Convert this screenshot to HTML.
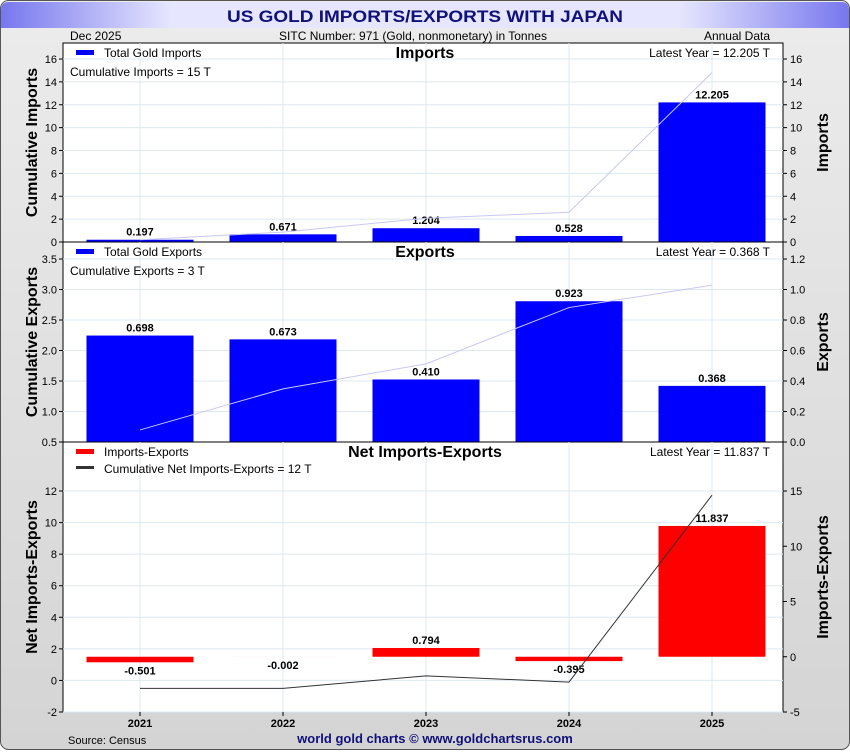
<!DOCTYPE html>
<html><head><meta charset="utf-8"><style>
body{margin:0;width:850px;height:750px;overflow:hidden;font-family:"Liberation Sans",sans-serif;}
</style></head><body>
<svg id="c" width="850" height="750" xmlns="http://www.w3.org/2000/svg" font-family="Liberation Sans, sans-serif">
<defs>
<linearGradient id="bg" x1="0" y1="0" x2="0" y2="1"><stop offset="0" stop-color="#ececec"/><stop offset="1" stop-color="#d4d4d4"/></linearGradient>
<linearGradient id="tb" x1="0" y1="0" x2="1" y2="0"><stop offset="0" stop-color="#7777ee"/><stop offset="0.2" stop-color="#e6e6ff"/><stop offset="0.8" stop-color="#e6e6ff"/><stop offset="1" stop-color="#7777ee"/></linearGradient>
</defs>
<rect x="0.5" y="0.5" width="849" height="749" rx="8" fill="url(#bg)" stroke="#555"/>
<path d="M1 28 V10 Q1 2 9 2 H841 Q849 2 849 10 V28 Z" fill="url(#tb)"/>
<text x="425" y="22" text-anchor="middle" font-size="17" font-weight="bold" fill="#10107a" textLength="396" lengthAdjust="spacingAndGlyphs">US GOLD IMPORTS/EXPORTS WITH JAPAN</text>
<text x="70" y="40" font-size="12">Dec  2025</text>
<text x="413" y="40" text-anchor="middle" font-size="12">SITC Number: 971 (Gold, nonmonetary) in Tonnes</text>
<text x="770" y="40" text-anchor="end" font-size="12">Annual Data</text>
<rect x="63" y="43" width="720" height="669" fill="#fff" stroke="#000"/>
<g id="g"></g>
<text x="68" y="744" font-size="11">Source: Census</text>
<text x="435" y="743" text-anchor="middle" font-size="13" font-weight="bold" fill="#10107a">world gold charts © www.goldchartsrus.com</text>
</svg>
<script>
const years=["2021","2022","2023","2024","2025"];
const imports=[0.197,0.671,1.204,0.528,12.205];
const importsCum=[0.197,0.868,2.072,2.600,14.805];
const exports=[0.698,0.673,0.410,0.923,0.368];
const exportsCum=[0.698,1.371,1.781,2.704,3.072];
const net=[-0.501,-0.002,0.794,-0.395,11.837];
const netCum=[-0.501,-0.503,0.291,-0.104,11.733];
const impTicks=[0,2,4,6,8,10,12,14,16];
const expLTicks=[0.5,1.0,1.5,2.0,2.5,3.0,3.5];
const expRTicks=[0.0,0.2,0.4,0.6,0.8,1.0,1.2];
const netLTicks=[-2,0,2,4,6,8,10,12];
const netRTicks=[-5,0,5,10,15];
const NS="http://www.w3.org/2000/svg";
const g=document.getElementById('g');
function mk(t,a,txt){const e=document.createElementNS(NS,t);for(const k in a)e.setAttribute(k,a[k]);if(txt!==undefined)e.textContent=txt;g.appendChild(e);return e;}
const X0=63,X1=783;
function x(i){return 140+i*143;}
function sc(d0,d1,p0,p1){return v=>p0+(v-d0)/(d1-d0)*(p1-p0);}
function panel(o){
  const yl=sc(o.lMin,o.lMax,o.bot,o.topPx), yr=sc(o.rMin,o.rMax,o.bot,o.topPx);
  years.forEach((yy,i)=>{const e=mk('line',{x1:x(i),x2:x(i),y1:o.top,y2:o.bot,stroke:'#dde8f0'});
    });
  o.lt.forEach(v=>{const e=mk('line',{x1:X0,x2:X1,y1:yl(v),y2:yl(v),stroke:'#dde8f0'});
    
    const t=mk('text',{x:X0-6,y:yl(v)+4,'text-anchor':'end','font-size':11},o.lf(v));
    
    mk('line',{x1:X0-4,x2:X0,y1:yl(v),y2:yl(v),stroke:'#000'});});
  o.rt.forEach(v=>{const t=mk('text',{x:X1+7,y:yr(v)+4,'font-size':11},o.rf(v));
    
    mk('line',{x1:X1,x2:X1+4,y1:yr(v),y2:yr(v),stroke:'#000'});});
  const base=Math.min(Math.max(o.rMin,0),o.rMax);
  o.bars.forEach((v,i)=>{const y0=yr(base),y1=yr(v);
    const b=mk('rect',{x:x(i)-53.5,y:Math.min(y0,y1),width:107,height:Math.abs(y0-y1),fill:o.color});
    
    const ly=v>=0?y1-4:y1+12;
    const t=mk('text',{x:x(i),y:ly,'text-anchor':'middle','font-size':11,'font-weight':'bold'},v.toFixed(3));
    });
  const pts=o.cum.map((v,i)=>x(i)+','+yl(v)).join(' ');
  const l=mk('polyline',{points:pts,fill:'none',stroke:o.lineColor,'stroke-width':1});
  
  if(o.divider){const d=mk('line',{x1:X0,x2:X1,y1:o.bot,y2:o.bot,stroke:'#000'});
    }
  const cy=(o.top+o.bot)/2;
  let t=mk('text',{x:0,y:0,transform:`translate(37,${cy}) rotate(-90)`,'text-anchor':'middle','font-size':16,'font-weight':'bold'},o.lTitle);
  
  t=mk('text',{x:0,y:0,transform:`translate(828,${cy}) rotate(-90)`,'text-anchor':'middle','font-size':16,'font-weight':'bold'},o.rTitle);
  
  t=mk('text',{x:425,y:o.top+15,'text-anchor':'middle','font-size':16,'font-weight':'bold'},o.title);
  
  t=mk('text',{x:770,y:o.top+14,'text-anchor':'end','font-size':12},o.latest);
  
  const s=mk('rect',{x:76,y:o.top+7,width:18,height:5,fill:o.color});
  
  t=mk('text',{x:104,y:o.top+14,'font-size':12},o.legend);
  
  if(o.legend2){const s2=mk('rect',{x:76,y:o.top+24,width:18,height:3,fill:'#333'});
    
    t=mk('text',{x:104,y:o.top+31,'font-size':12},o.legend2);
    }
  if(o.cumLabel){t=mk('text',{x:70,y:o.top+33,'font-size':12},o.cumLabel);
    }
}
panel({key:'imports',top:43,bot:242,topPx:59,lMin:0,lMax:16,rMin:0,rMax:16,lt:impTicks,rt:impTicks,lf:v=>v,rf:v=>v,
  bars:imports,cum:importsCum,color:'#0000ff',lineColor:'#c8c8f4',divider:true,lTitle:'Cumulative Imports',rTitle:'Imports',
  title:'Imports',latest:'Latest Year = 12.205 T',legend:'Total Gold Imports',cumLabel:'Cumulative Imports = 15 T'});
panel({key:'exports',top:242,bot:442,topPx:259,lMin:0.5,lMax:3.5,rMin:0,rMax:1.2,lt:expLTicks,rt:expRTicks,lf:v=>v.toFixed(1),rf:v=>v.toFixed(1),
  bars:exports,cum:exportsCum,color:'#0000ff',lineColor:'#c8c8f4',divider:true,lTitle:'Cumulative Exports',rTitle:'Exports',
  title:'Exports',latest:'Latest Year = 0.368 T',legend:'Total Gold Exports',cumLabel:'Cumulative Exports = 3 T'});
panel({key:'net',top:442,bot:712,topPx:491,lMin:-2,lMax:12,rMin:-5,rMax:15,lt:netLTicks,rt:netRTicks,lf:v=>v,rf:v=>v,
  bars:net,cum:netCum,color:'#ff0000',lineColor:'#333',divider:false,lTitle:'Net Imports-Exports',rTitle:'Imports-Exports',
  title:'Net Imports-Exports',latest:'Latest Year = 11.837 T',legend:'Imports-Exports',legend2:'Cumulative Net Imports-Exports = 12 T'});
years.forEach((yy,i)=>{const t=mk('text',{x:x(i),y:727,'text-anchor':'middle','font-size':11,'font-weight':'bold'},yy);
  
  mk('line',{x1:x(i),x2:x(i),y1:712,y2:716,stroke:'#000'});});
</script>
</body></html>
